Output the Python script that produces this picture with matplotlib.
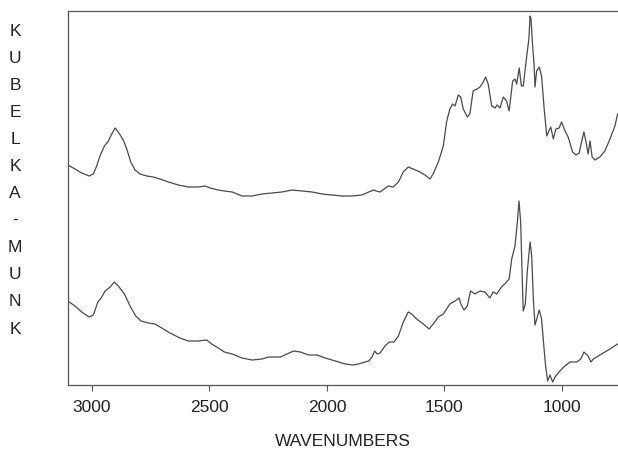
import matplotlib.pyplot as plt

plt.rcParams['font.family'] = ['Liberation Sans', 'DejaVu Sans']

# upper spectrum
wn_top = [3102, 3071, 3043, 3011, 2993, 2979, 2965, 2946, 2929, 2915, 2901, 2887, 2866,
          2851, 2834, 2816, 2795, 2766, 2738, 2710, 2674, 2632, 2589, 2547, 2518, 2497,
          2462, 2436, 2403, 2361, 2318, 2276, 2233, 2191, 2148, 2106, 2063, 2020, 1978,
          1936, 1893, 1851, 1822, 1801, 1791, 1774, 1739, 1718, 1696, 1675, 1654, 1633,
          1604, 1583, 1562, 1548, 1526, 1505, 1491, 1477, 1465, 1455, 1441, 1431, 1420,
          1403, 1392, 1378, 1361, 1349, 1335, 1325, 1314, 1299, 1285, 1276, 1264, 1250,
          1236, 1225, 1210, 1200, 1193, 1182, 1173, 1165, 1150, 1141, 1136, 1132, 1125,
          1119, 1115, 1108, 1097, 1087, 1077, 1065, 1056, 1048, 1037, 1026, 1012, 1002,
          987, 974, 955, 941, 927, 917, 907, 898, 889, 881, 872, 860, 839, 818, 796, 775, 764]
km_top = [2.20, 2.16, 2.12, 2.09, 2.11, 2.19, 2.29, 2.39, 2.44, 2.51, 2.57, 2.53, 2.45,
          2.36, 2.23, 2.15, 2.11, 2.09, 2.08, 2.06, 2.03, 2.00, 1.98, 1.98, 1.99, 1.97,
          1.95, 1.94, 1.93, 1.89, 1.89, 1.91, 1.92, 1.93, 1.95, 1.94, 1.93, 1.91, 1.90,
          1.89, 1.89, 1.90, 1.93, 1.95, 1.94, 1.93, 1.99, 1.98, 2.03, 2.13, 2.18, 2.16,
          2.13, 2.10, 2.06, 2.11, 2.23, 2.39, 2.63, 2.76, 2.81, 2.79, 2.90, 2.88, 2.76,
          2.68, 2.71, 2.94, 2.96, 2.98, 3.03, 3.08, 3.01, 2.79, 2.77, 2.80, 2.77, 2.88,
          2.84, 2.74, 3.04, 3.06, 3.01, 3.17, 2.99, 2.99, 3.29, 3.46, 3.69, 3.66, 3.39,
          3.21, 2.98, 3.14, 3.18, 3.09, 2.79, 2.49, 2.54, 2.58, 2.46, 2.56, 2.57, 2.63,
          2.54, 2.48, 2.33, 2.30, 2.32, 2.43, 2.53, 2.43, 2.31, 2.44, 2.28, 2.25, 2.28,
          2.34, 2.46, 2.59, 2.71]

# lower spectrum
wn_bot = [3102, 3071, 3043, 3011, 2993, 2974, 2960, 2943, 2922, 2904, 2887, 2861, 2837,
          2813, 2790, 2759, 2731, 2702, 2667, 2625, 2589, 2547, 2511, 2490, 2462, 2436,
          2403, 2361, 2318, 2276, 2247, 2198, 2170, 2141, 2113, 2077, 2042, 2007, 1964,
          1922, 1886, 1851, 1822, 1808, 1797, 1786, 1774, 1753, 1735, 1715, 1696, 1675,
          1654, 1639, 1618, 1590, 1565, 1548, 1526, 1505, 1477, 1455, 1438, 1430, 1417,
          1403, 1389, 1370, 1349, 1328, 1307, 1293, 1278, 1257, 1236, 1225, 1214, 1200,
          1190, 1183, 1176, 1170, 1165, 1156, 1148, 1136, 1129, 1122, 1115, 1105, 1097,
          1087, 1080, 1070, 1061, 1051, 1040, 1030, 1009, 988, 966, 938, 920, 907, 889,
          877, 867, 839, 796, 764]
km_bot = [0.84, 0.79, 0.73, 0.68, 0.70, 0.83, 0.87, 0.94, 0.98, 1.03, 0.99, 0.91, 0.79,
          0.69, 0.64, 0.62, 0.61, 0.57, 0.52, 0.47, 0.44, 0.44, 0.45, 0.41, 0.37, 0.33,
          0.31, 0.27, 0.25, 0.26, 0.28, 0.28, 0.31, 0.34, 0.33, 0.30, 0.30, 0.27, 0.24,
          0.21, 0.20, 0.22, 0.24, 0.28, 0.34, 0.31, 0.32, 0.39, 0.43, 0.43, 0.49, 0.63,
          0.73, 0.71, 0.66, 0.61, 0.56, 0.61, 0.68, 0.71, 0.81, 0.84, 0.87, 0.81, 0.75,
          0.79, 0.94, 0.91, 0.94, 0.93, 0.87, 0.93, 0.91, 0.98, 1.03, 1.06, 1.26, 1.39,
          1.63, 1.84, 1.63, 1.13, 0.74, 0.81, 1.13, 1.43, 1.29, 0.86, 0.60, 0.68, 0.75,
          0.66, 0.46, 0.19, 0.04, 0.10, 0.03, 0.08, 0.14, 0.19, 0.23, 0.23, 0.26, 0.33,
          0.29, 0.23, 0.26, 0.30, 0.36, 0.41]

xticks = [3000, 2500, 2000, 1500, 1000]
ylabel = "KUBELKA-MUNK"

fig = plt.figure(figsize=(6.18, 4.56), dpi=100)
ax = fig.add_axes([0.110, 0.1535, 0.89, 0.8202])

ax.plot(wn_top, km_top, color='#4a4a4a', lw=0.9)
ax.plot(wn_bot, km_bot, color='#4a4a4a', lw=0.9)

ax.set_xlim(3101, 762)
ax.set_ylim(0, 3.74)
ax.set_xticks(xticks)
ax.set_xticklabels([str(t) for t in xticks], fontsize=12.5, color='#222222')
ax.set_yticks([])
ax.tick_params(axis='x', length=4, width=0.8, color='#555555', pad=6)
ax.spines['right'].set_visible(False)
for s in ['left', 'bottom', 'top']:
    ax.spines[s].set_color('#555555')
    ax.spines[s].set_linewidth(0.9)

ax.set_xlabel("WAVENUMBERS", fontsize=12.5, color='#222222', labelpad=14)

# vertical stacked y label
for i, ch in enumerate(ylabel):
    fig.text(15 / 618, 1 - (31 + i * 27.1) / 456, ch, ha='center', va='center',
             fontsize=12.5, color='#222222')

fig.savefig('out.png', dpi=100)
